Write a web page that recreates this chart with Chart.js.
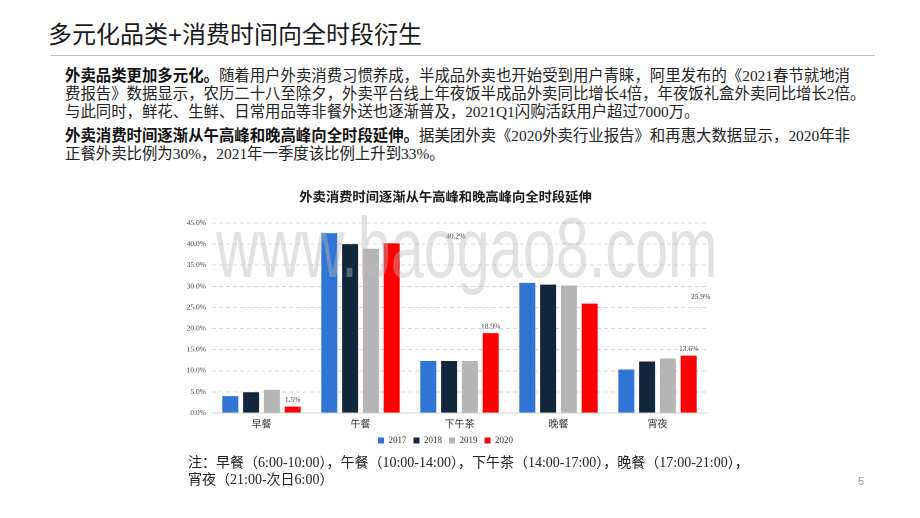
<!DOCTYPE html>
<html>
<head>
<meta charset="utf-8">
<script src="https://cdn.jsdelivr.net/npm/chart.js@4"></script>
<style>
  html, body { margin: 0; padding: 0; background: #fff; }
  body { width: 920px; height: 518px; position: relative; overflow: hidden;
         font-family: "Liberation Serif", "Noto Sans CJK SC", serif; color: #222; }
  .head { position: absolute; left: 48px; top: 15px; font-family: "Liberation Sans", "Noto Sans CJK SC", sans-serif;
          font-size: 24px; color: #1a1a1a; white-space: nowrap; }
  .rule { position: absolute; left: 51px; top: 55px; width: 824px; height: 1px; background: #bdbdbd; }
  .para { position: absolute; left: 65px; font-size: 15.4px; line-height: 18px; white-space: nowrap; color: #222; }
  .para b { font-weight: bold; color: #111; }
  .note { position: absolute; left: 188px; top: 454px; font-size: 14px; line-height: 17px; white-space: nowrap; color: #222; }
  .page { position: absolute; left: 858px; top: 475px; font-size: 11px; color: #999;
          font-family: "Liberation Sans", sans-serif; }
  .wrap { position: absolute; left: 180px; top: 184px; width: 536px; height: 271px; }
  .mark { position: absolute; left: 216px; top: 198px; font-family: "Liberation Sans", sans-serif; font-size: 86px;
          color: rgba(185,185,185,0.42); transform: scaleX(0.69); transform-origin: left top; white-space: nowrap;
          pointer-events: none; }
</style>
</head>
<body>
<div class="head">多元化品类+消费时间向全时段衍生</div>
<div class="rule"></div>
<div class="para" style="top:67px"><b>外卖品类更加多元化。</b>随着用户外卖消费习惯养成，半成品外卖也开始受到用户青睐，阿里发布的《2021春节就地消<br>费报告》数据显示，农历二十八至除夕，外卖平台线上年夜饭半成品外卖同比增长4倍，年夜饭礼盒外卖同比增长2倍。<br>与此同时，鲜花、生鲜、日常用品等非餐外送也逐渐普及，2021Q1闪购活跃用户超过7000万。</div>
<div class="para" style="top:127px"><b>外卖消费时间逐渐从午高峰和晚高峰向全时段延伸。</b>据美团外卖《2020外卖行业报告》和再惠大数据显示，2020年非<br>正餐外卖比例为30%，2021年一季度该比例上升到33%。</div>

<div class="wrap"><canvas id="chart" width="536" height="271"></canvas></div>
<div class="mark">www.baogao8.com</div>

<div class="note">注：早餐（6:00-10:00），午餐（10:00-14:00），下午茶（14:00-17:00），晚餐（17:00-21:00），<br>宵夜（21:00-次日6:00）</div>
<div class="page">5</div>

<script>
// data
const categories = ['早餐', '午餐', '下午茶', '晚餐', '宵夜'];
const seriesNames = ['2017', '2018', '2019', '2020'];
const v2017 = [4.0, 42.6, 12.3, 30.8, 10.3];
const v2018 = [4.9, 40.0, 12.3, 30.4, 12.2];
const v2019 = [5.5, 38.9, 12.3, 30.2, 12.9];
const v2020 = [1.5, 40.2, 18.9, 25.9, 13.6];
const yTicks = [0, 5, 10, 15, 20, 25, 30, 35, 40, 45];

const COLORS = ['#2e75d6', '#12263c', '#b5b5b5', '#ff0000'];
const SERIF = "'Liberation Serif', 'Noto Sans CJK SC', serif";

// value labels on the last series (two of them sit off to the right in the source)
const labelShift = [0, 64, 0, 111, 0];
const valueLabels = {
    id: 'valueLabels',
    afterDatasetsDraw(chart) {
        const ctx = chart.ctx;
        const meta = chart.getDatasetMeta(3);
        ctx.save();
        ctx.font = '7.5px ' + SERIF;
        ctx.fillStyle = '#404040';
        ctx.textAlign = 'center';
        ctx.textBaseline = 'bottom';
        meta.data.forEach((bar, i) => {
            ctx.fillText(v2020[i].toFixed(1) + '%', bar.x + labelShift[i], bar.y - 3);
        });
        ctx.restore();
    }
};

const allValues = [v2017, v2018, v2019, v2020];

new Chart(document.getElementById('chart'), {
    type: 'bar',
    data: {
        labels: categories,
        datasets: seriesNames.map((name, k) => ({
            label: name,
            data: allValues[k],
            backgroundColor: COLORS[k],
            borderWidth: 0,
            categoryPercentage: 0.84,
            barPercentage: 0.77,
        }))
    },
    options: {
        responsive: false,
        animation: false,
        devicePixelRatio: 2,
        layout: { padding: { left: 4, right: 9, top: 0, bottom: 0 } },
        plugins: {
            title: {
                display: true,
                text: '外卖消费时间逐渐从午高峰和晚高峰向全时段延伸',
                color: '#1a1a1a',
                font: { family: SERIF, size: 13.3, weight: 'bold' },
                padding: { top: 6, bottom: 17 }
            },
            legend: {
                display: true,
                position: 'bottom',
                labels: {
                    color: '#333',
                    font: { family: SERIF, size: 9 },
                    boxWidth: 6, boxHeight: 6, padding: 7
                }
            },
            tooltip: { enabled: false }
        },
        scales: {
            x: {
                grid: { display: false },
                border: { color: '#d0d0d0' },
                ticks: { color: '#333', font: { family: SERIF, size: 10 }, padding: -2 }
            },
            y: {
                min: 0, max: 45,
                afterFit(s) { s.width = 28; },
                afterBuildTicks(s) { s.ticks = yTicks.map(v => ({ value: v })); },
                grid: { color: '#d9d9d9', drawTicks: false },
                border: { display: false, dash: [4, 3] },
                ticks: {
                    color: '#444',
                    padding: 6,
                    font: { family: SERIF, size: 7.5 },
                    callback: v => v.toFixed(1) + '%'
                }
            }
        }
    },
    plugins: [valueLabels]
});
</script>
</body>
</html>
